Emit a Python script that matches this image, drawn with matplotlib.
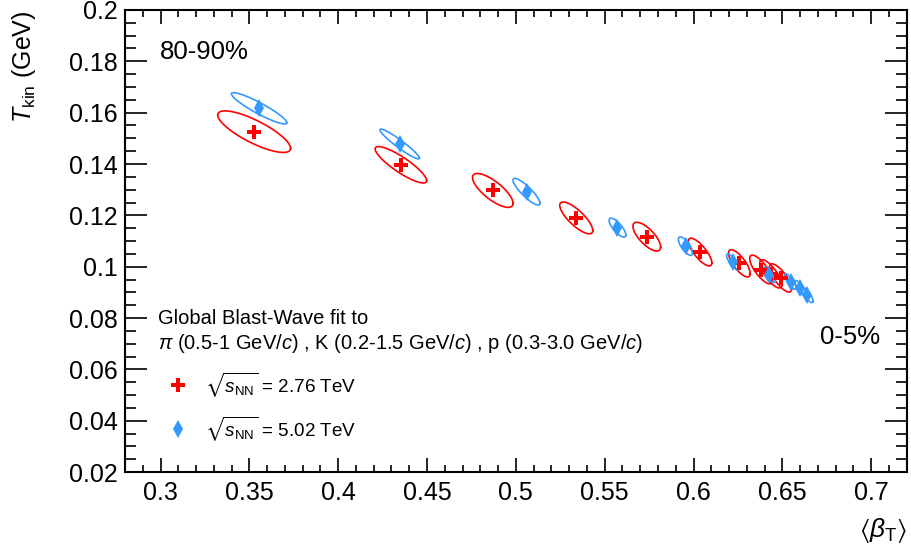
import numpy as np
import matplotlib
matplotlib.use('Agg')
import matplotlib.pyplot as plt
from matplotlib.ticker import MultipleLocator, FuncFormatter

plt.rcParams['font.family'] = ['Liberation Sans', 'DejaVu Sans']
plt.rcParams['mathtext.fontset'] = 'custom'
plt.rcParams['mathtext.rm'] = 'Liberation Sans'
plt.rcParams['mathtext.it'] = 'Liberation Sans:italic'
plt.rcParams['mathtext.bf'] = 'Liberation Sans:bold'
plt.rcParams['mathtext.fallback'] = 'stixsans'

# Blast-wave fit results, centrality 80-90% ... 0-5%
# 2.76 TeV
beta_276 = [0.3527, 0.4353, 0.4870, 0.5340, 0.5737, 0.6037, 0.6258, 0.6380, 0.6435, 0.6490]
tkin_276 = [0.1526, 0.1397, 0.1297, 0.1190, 0.1117, 0.1057, 0.1013, 0.0989, 0.0972, 0.0956]
# 1 sigma contour: sigma(beta), sigma(T), correlation
sbeta_276 = [0.0205, 0.0145, 0.0114, 0.0093, 0.0078, 0.0066, 0.0061, 0.0064, 0.0062, 0.0062]
stkin_276 = [0.0081, 0.0071, 0.0066, 0.0062, 0.0056, 0.0054, 0.0053, 0.0056, 0.0055, 0.0055]
rho_276 = [-0.80, -0.87, -0.76, -0.79, -0.72, -0.78, -0.75, -0.77, -0.77, -0.77]

# 5.02 TeV
beta_502 = [0.3555, 0.4346, 0.5060, 0.5572, 0.5955, 0.6222, 0.6424, 0.6546, 0.6602, 0.6640]
tkin_502 = [0.1617, 0.1478, 0.1292, 0.1152, 0.1080, 0.1018, 0.0968, 0.0942, 0.0916, 0.0890]
sbeta_502 = [0.0156, 0.0111, 0.0076, 0.0047, 0.0040, 0.0036, 0.0034, 0.0033, 0.0033, 0.0033]
stkin_502 = [0.0061, 0.0058, 0.0052, 0.0037, 0.0036, 0.0031, 0.0030, 0.0030, 0.0030, 0.0030]
rho_502 = [-0.92, -0.95, -0.87, -0.77, -0.73, -0.80, -0.80, -0.80, -0.80, -0.80]

red = '#ff0000'
blue = '#3399ff'


def contour(mx, my, sx, sy, rho):
    t = np.linspace(0, 2 * np.pi, 200)
    x = mx + sx * np.cos(t)
    y = my + sy * (rho * np.cos(t) + np.sqrt(1 - rho ** 2) * np.sin(t))
    return x, y


fig = plt.figure(figsize=(9.11, 5.55), dpi=100)
ax = fig.add_axes([0.1372, 0.1495, 0.8581, 0.8325])

for i in range(len(beta_276)):
    cx, cy = contour(beta_276[i], tkin_276[i], sbeta_276[i], stkin_276[i], rho_276[i])
    ax.plot(cx, cy, color=red, lw=1.2)
for i in range(len(beta_502)):
    cx, cy = contour(beta_502[i], tkin_502[i], sbeta_502[i], stkin_502[i], rho_502[i])
    ax.plot(cx, cy, color=blue, lw=1.2)

h1, = ax.plot(beta_276, tkin_276, 'P', color=red, ms=9.5, mew=0, ls='none')
h2, = ax.plot(beta_502, tkin_502, 'd', color=blue, ms=9, mew=0, ls='none')

ax.set_xlim(0.28, 0.72)
ax.set_ylim(0.02, 0.2)
ax.xaxis.set_major_locator(MultipleLocator(0.05))
ax.xaxis.set_minor_locator(MultipleLocator(0.01))
ax.yaxis.set_major_locator(MultipleLocator(0.02))
ax.yaxis.set_minor_locator(MultipleLocator(0.005))
fmt = FuncFormatter(lambda v, p: '%g' % round(v, 4))
ax.xaxis.set_major_formatter(fmt)
ax.yaxis.set_major_formatter(fmt)

for s in ax.spines.values():
    s.set_linewidth(1.5)
ax.tick_params(which='both', direction='in', top=True, right=True, width=1.2, labelsize=18)
ax.tick_params(axis='x', which='major', length=10, pad=6.5)
ax.tick_params(axis='x', which='minor', length=5)
ax.tick_params(axis='y', which='major', length=16, pad=5)
ax.tick_params(axis='y', which='minor', length=8)

ax.set_xlabel(r'$\langle\beta_{\rm T}\rangle$', fontsize=19, loc='right')
ax.xaxis.set_label_coords(1.0, -0.095)
ax.set_ylabel(r'$T_{\rm kin}$ (GeV)', fontsize=18, loc='top')
ax.yaxis.set_label_coords(-0.111, 1.0)

ax.text(0.0448, 0.909, '80-90%', transform=ax.transAxes, fontsize=18.5, va='center', ha='left')
ax.text(0.966, 0.292, '0-5%', transform=ax.transAxes, fontsize=18.5, va='center', ha='right')

leg = ax.legend([h1, h2],
                [r'$\sqrt{s_{\rm NN}}$ = 2.76 TeV', r'$\sqrt{s_{\rm NN}}$ = 5.02 TeV'],
                title='Global Blast-Wave fit to\n'
                      r'$\pi$ (0.5-1 GeV/$c$) , K (0.2-1.5 GeV/$c$) , p (0.3-3.0 GeV/$c$)',
                loc='upper left', bbox_to_anchor=(0.0422, 0.352), frameon=False,
                fontsize=13.6, title_fontsize=14.5, borderpad=0, borderaxespad=0,
                handlelength=2.1, handletextpad=0.39, labelspacing=0.8, alignment='left')

fig.savefig('out.png', dpi=100)
